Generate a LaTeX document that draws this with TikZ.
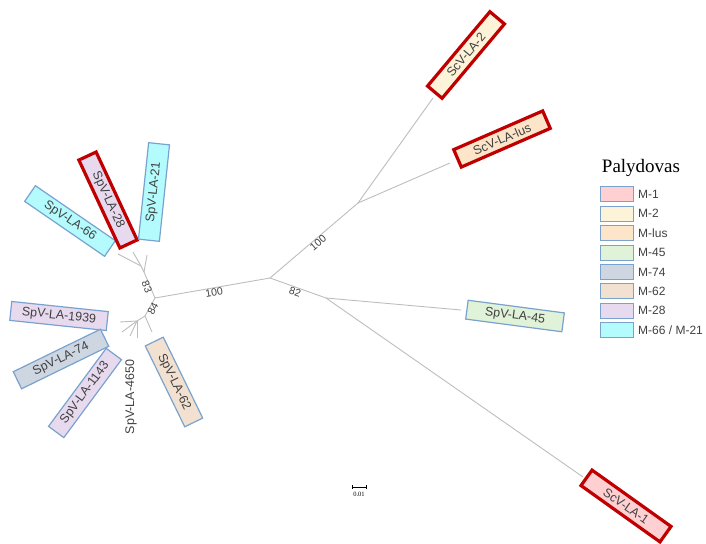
\documentclass[tikz,border=0pt]{standalone}
\usepackage{fontspec}
\setmainfont{Liberation Sans}
\newfontfamily\serifleg{Liberation Serif}
\definecolor{branch}{HTML}{BDBDBD}
\definecolor{txt}{HTML}{404040}
\definecolor{bblue}{HTML}{7AA2CE}
\definecolor{bred}{HTML}{C00000}
\definecolor{cM1}{HTML}{FFD0D2}
\definecolor{cM2}{HTML}{FDF3D8}
\definecolor{cMlus}{HTML}{FCE5C8}
\definecolor{cM45}{HTML}{E0F2D8}
\definecolor{cM74}{HTML}{CDD6E1}
\definecolor{cM62}{HTML}{F2E1D1}
\definecolor{cM28}{HTML}{E7D9EE}
\definecolor{cM66}{HTML}{B4FBFD}
\tikzset{
  br/.style={draw=branch, line width=0.9pt},
  leafbox/.style={draw=bblue, line width=1.2pt, minimum width=97pt, minimum height=19pt,
    inner sep=0pt, text=txt, font=\fontsize{12.5}{13}\selectfont},
  redbox/.style={leafbox, draw=bred, line width=3.2pt},
  boot/.style={text=txt, font=\fontsize{10.5}{10.5}\selectfont, inner sep=0pt},
  swatch/.style={draw=bblue, line width=1pt, minimum width=33pt, minimum height=15pt, inner sep=0pt},
  legtxt/.style={text=txt, font=\fontsize{12}{12}\selectfont, anchor=west, inner sep=0pt}
}
\begin{document}
\begin{tikzpicture}[x=1pt,y=-1pt]
\useasboundingbox (0,0) rectangle (706,543);
% internal nodes
\coordinate (root) at (270,278);
\coordinate (scv) at (358,203);
\coordinate (r82) at (326,298);
\coordinate (M) at (155,298);
\coordinate (U) at (144,272);
\coordinate (U1) at (141,266);
\coordinate (L) at (145,316);
\coordinate (L1) at (137,321);
% tips
\coordinate (t2) at (433,98);
\coordinate (tlus) at (450,163);
\coordinate (t45) at (461,310);
\coordinate (t1) at (583,477);
\coordinate (t66) at (118,254);
\coordinate (t28) at (133,252);
\coordinate (t21) at (147,255);
\coordinate (t1939) at (120,322);
\coordinate (t74) at (122,332);
\coordinate (t1143) at (130,336);
\coordinate (t4650) at (137,338);
\coordinate (t62) at (152,332);
% branches
\draw[br] (root) -- (scv);
\draw[br] (scv) -- (t2);
\draw[br] (scv) -- (tlus);
\draw[br] (root) -- (r82);
\draw[br] (r82) -- (t45);
\draw[br] (r82) -- (t1);
\draw[br] (root) -- (M);
\draw[br] (M) -- (U);
\draw[br] (U) -- (U1);
\draw[br] (U1) -- (t66);
\draw[br] (U1) -- (t28);
\draw[br] (U) -- (t21);
\draw[br] (M) -- (L);
\draw[br] (L) -- (L1);
\draw[br] (L1) -- (t1939);
\draw[br] (L1) -- (t74);
\draw[br] (L1) -- (t1143);
\draw[br] (L1) -- (t4650);
\draw[br] (L) -- (t62);
% bootstrap values
\node[boot, rotate=40] (b100a) at (318,243) {100};
\node[boot, rotate=-19] (b82) at (295,292) {82};
\node[boot, rotate=10] (b100b) at (214,292) {100};
\node[boot, rotate=-68] (b83) at (147,287) {83};
\node[boot, rotate=62] (b84) at (153,309) {84};
% leaf boxes
\node[redbox, fill=cM2, rotate=50] (n2) at (466,55) {ScV-LA-2};
\node[redbox, fill=cMlus, rotate=23.5] (nlus) at (502,139) {ScV-LA-lus};
\node[leafbox, fill=cM45, rotate=-7.5] (n45) at (515,316) {SpV-LA-45};
\node[redbox, fill=cM1, rotate=-35.5] (n1) at (626,506) {ScV-LA-1};
\node[leafbox, fill=cM66, rotate=-34.5] (n66) at (70,221) {SpV-LA-66};
\node[redbox, fill=cM28, rotate=-65] (n28) at (108,200) {SpV-LA-28};
\node[leafbox, fill=cM66, rotate=84, minimum height=21pt] (n21) at (154,192) {SpV-LA-21};
\node[leafbox, fill=cM28, rotate=-6] (n1939) at (59,316) {SpV-LA-1939};
\node[leafbox, fill=cM74, rotate=26] (n74) at (61,359) {SpV-LA-74};
\node[leafbox, fill=cM28, rotate=53.5] (n1143) at (85,393) {SpV-LA-1143};
\node[text=txt, font=\fontsize{12.5}{13}\selectfont, rotate=90, inner sep=0pt] (n4650) at (131,397) {SpV-LA-4650};
\node[leafbox, fill=cM62, rotate=-64, minimum width=90pt, minimum height=20pt] (n62) at (174,382) {SpV-LA-62};
% legend
\node[font=\serifleg\fontsize{19}{20}\selectfont, anchor=center, inner sep=0pt] (legt) at (641,168) {Palydovas};
\foreach \i/\c/\t in {0/cM1/{M-1},1/cM2/{M-2},2/cMlus/{M-lus},3/cM45/{M-45},4/cM74/{M-74},5/cM62/{M-62},6/cM28/{M-28},7/cM66/{M-66 / M-21}}{
  \node[swatch, fill=\c] (sw\i) at (616.5,194.3+19.4*\i) {};
  \node[legtxt] (lt\i) at (638,194.3+19.4*\i) {\t};
}
% scale bar
\coordinate (sbA) at (352,487);
\coordinate (sbB) at (366,487);
\draw[black, line width=0.6pt] (sbA) -- (sbB);
\draw[black, line width=0.6pt] (sbA) ++(0,-2) -- ++(0,4);
\draw[black, line width=0.6pt] (sbB) ++(0,-2) -- ++(0,4);
\node[font=\serifleg\fontsize{6.5}{7}\selectfont, inner sep=0pt] (sbl) at (359,494) {0.01};
\end{tikzpicture}
\end{document}
